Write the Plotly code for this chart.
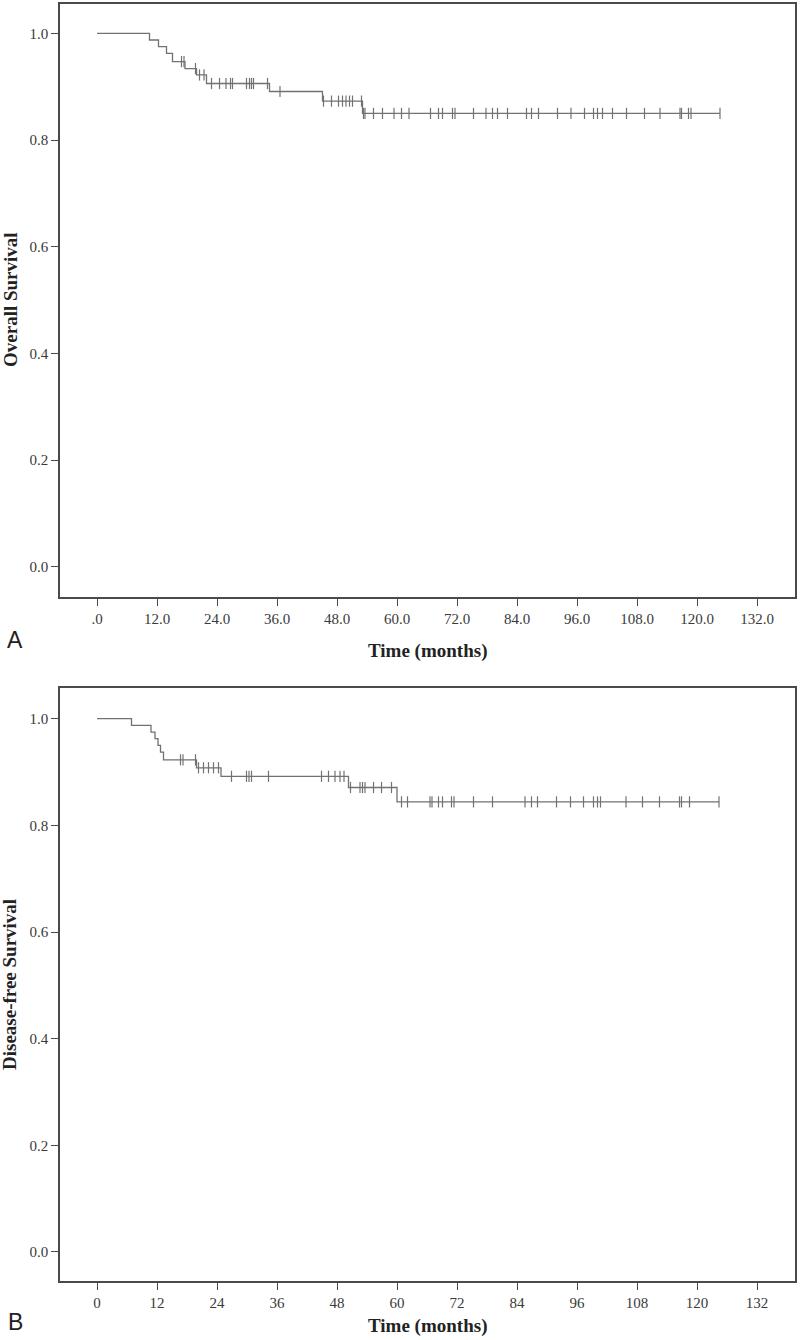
import plotly.graph_objects as go

# ---------------- data ----------------
# Panel A: Overall survival
os_event_times = [10.5, 12.3, 13.9, 15.1, 17.6, 19.9, 21.9, 34.5, 45.1, 53.1]
os_levels = [1.0, 0.9875, 0.975, 0.9625, 0.947, 0.934, 0.922, 0.906, 0.891, 0.873, 0.850]
os_censor_times = [16.9, 17.4, 19.7, 20.5, 21.4, 22.9, 24.5, 25.8, 26.7, 27.1, 29.9, 30.5,
                   30.9, 31.3, 34.1, 36.6, 45.3, 46.9, 48.3, 49.1, 49.8, 50.5, 51.1, 52.9,
                   53.3, 53.6, 55.3, 57.1, 59.4, 60.9, 62.4, 66.7, 68.3, 69.1, 71.1, 71.6,
                   75.3, 77.8, 79.1, 80.1, 82.1, 85.9, 86.9, 88.3, 92.1, 94.8, 97.5, 99.3,
                   100.1, 101.1, 103.1, 105.9, 109.5, 112.6, 116.6, 116.9, 118.3, 118.8, 124.6]

# Panel B: Disease-free survival
dfs_event_times = [6.9, 10.8, 11.6, 12.2, 12.7, 13.3, 19.9, 24.8, 50.3, 60.0]
dfs_levels = [1.0, 0.9875, 0.975, 0.9625, 0.95, 0.9375, 0.923, 0.908, 0.892, 0.871, 0.844]
dfs_censor_times = [16.7, 17.2, 19.7, 20.3, 21.3, 22.3, 23.3, 24.3, 26.9, 29.9, 30.4, 30.9,
                    34.3, 44.9, 46.3, 47.6, 48.6, 49.4, 50.7, 52.6, 53.1, 53.6, 55.3, 56.9,
                    58.9, 60.9, 62.1, 66.6, 67.0, 68.3, 69.1, 70.9, 71.4, 75.3, 79.1, 85.6,
                    86.9, 88.1, 91.9, 94.7, 97.3, 99.3, 100.1, 100.7, 105.8, 109.1, 112.5,
                    116.5, 116.9, 118.5, 124.4]

x_tickvals = [0, 12, 24, 36, 48, 60, 72, 84, 96, 108, 120, 132]
x_ticktext_a = [".0", "12.0", "24.0", "36.0", "48.0", "60.0", "72.0", "84.0", "96.0",
                "108.0", "120.0", "132.0"]
x_ticktext_b = ["0", "12", "24", "36", "48", "60", "72", "84", "96", "108", "120", "132"]
y_tickvals = [0.0, 0.2, 0.4, 0.6, 0.8, 1.0]
y_ticktext = ["0.0", "0.2", "0.4", "0.6", "0.8", "1.0"]

# ---------------- helpers ----------------
def step_xy(times, levels, end):
    xs = [0.0] + list(times) + [end]
    ys = list(levels) + [levels[-1]]
    return xs, ys


def level_at(t, times, levels):
    n = sum(1 for e in times if e <= t)
    return levels[n]


W, H = 800, 1340
LINE_COL = "#727272"
AX_COL = "#4a4a4a"
TXT_COL = "#3a3a3a"
SERIF = "Liberation Serif"

fig = go.Figure()

panels = [
    (os_event_times, os_levels, os_censor_times, "x", "y"),
    (dfs_event_times, dfs_levels, dfs_censor_times, "x2", "y2"),
]
for times, levels, cens, xa, ya in panels:
    end = max(cens)
    xs, ys = step_xy(times, levels, end)
    fig.add_trace(go.Scatter(x=xs, y=ys, mode="lines", line_shape="hv",
                             line=dict(color=LINE_COL, width=1.3),
                             xaxis=xa, yaxis=ya, showlegend=False, hoverinfo="skip"))
    cy = [level_at(c, times, levels) for c in cens]
    fig.add_trace(go.Scatter(x=cens, y=cy, mode="markers",
                             marker=dict(symbol="line-ns-open", size=8, color=LINE_COL,
                                         line=dict(color=LINE_COL, width=1.2)),
                             xaxis=xa, yaxis=ya, showlegend=False, hoverinfo="skip"))

x_dom = [60 / W, 795 / W]
top_dom = [1 - 597 / H, 1 - 4 / H]
bot_dom = [1 - 1281 / H, 1 - 688 / H]

common_x = dict(domain=x_dom, range=[-7.4, 139.6], tickmode="array", tickvals=x_tickvals,
                ticks="outside", ticklen=7, tickwidth=1.3, tickcolor=AX_COL,
                showline=True, mirror=True, linecolor=AX_COL, linewidth=1.6,
                showgrid=False, zeroline=False, automargin=False,
                tickfont=dict(family=SERIF, size=15, color=TXT_COL))
common_y = dict(tickmode="array", tickvals=y_tickvals, ticktext=y_ticktext,
                ticks="outside", ticklen=7, tickwidth=1.3, tickcolor=AX_COL,
                showline=True, mirror=True, linecolor=AX_COL, linewidth=1.6,
                showgrid=False, zeroline=False, automargin=False,
                tickfont=dict(family=SERIF, size=15, color=TXT_COL))

fig.update_layout(
    template="none",
    width=W, height=H, margin=dict(l=0, r=0, t=0, b=0, pad=0),
    paper_bgcolor="white", plot_bgcolor="white",
    xaxis=dict(**common_x, anchor="y", ticktext=x_ticktext_a),
    yaxis=dict(**common_y, domain=top_dom, range=[-0.0563, 1.055], anchor="x"),
    xaxis2=dict(**common_x, anchor="y2", ticktext=x_ticktext_b),
    yaxis2=dict(**common_y, domain=bot_dom, range=[-0.0544, 1.0576], anchor="x2"),
)

def ann(text, xpx, ypx, size, bold=False, family=SERIF, angle=0):
    t = f"<b>{text}</b>" if bold else text
    fig.add_annotation(text=t, x=xpx / W, y=1 - ypx / H, xref="paper", yref="paper",
                       showarrow=False, textangle=angle, xanchor="center", yanchor="middle",
                       font=dict(family=family, size=size, color="#222222"))

ann("Time (months)", 427.5, 651, 19, bold=True)
ann("Overall Survival", 10, 300, 19, bold=True, angle=-90)
ann("A", 15, 640, 23, family="Liberation Sans")
ann("Time (months)", 427.5, 1326, 19, bold=True)
ann("Disease-free Survival", 10, 985, 19, bold=True, angle=-90)
ann("B", 15, 1322, 23, family="Liberation Sans")

fig.write_html(
    "out.html",
    config={"displayModeBar": False},
    post_script=("document.documentElement.style.margin='0';"
                 "document.body.style.margin='0';"
                 "document.body.style.overflow='hidden';"),
)
